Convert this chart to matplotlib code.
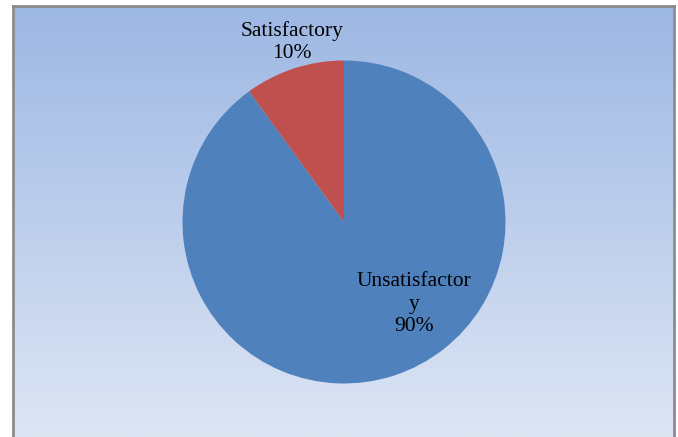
import matplotlib
matplotlib.use("Agg")
import matplotlib.pyplot as plt
import numpy as np
from matplotlib.colors import LinearSegmentedColormap

categories = ["Unsatisfactory", "Satisfactory"]
shares = [90, 10]
label_text = ["Unsatisfactor\ny\n90%", "Satisfactory\n10%"]
colors = ["#4F81BD", "#C0504D"]

W, H = 678, 437
fig = plt.figure(figsize=(W / 100, H / 100), dpi=100)
fig.patch.set_facecolor("white")

# gradient chart area with a grey frame (bottom edge is cut off in the source)
bg = fig.add_axes([13 / W, 0, (674 - 13) / W, (437 - 6) / H])
cmap = LinearSegmentedColormap.from_list("bg", ["#DDE5F4", "#9DB8E4"])
bg.imshow(np.linspace(0, 1, 256).reshape(-1, 1), aspect="auto", cmap=cmap,
          origin="lower", extent=[0, 1, 0, 1])
bg.set_xticks([])
bg.set_yticks([])
for name, s in bg.spines.items():
    s.set_color("#8C8C8C")
    s.set_linewidth(2)
bg.spines["bottom"].set_visible(False)

# pie
cx, cy, r = 344, 222, 161.5
ax = fig.add_axes([(cx - r) / W, (H - cy - r) / H, 2 * r / W, 2 * r / H])
ax.pie(shares, colors=colors, startangle=90, counterclock=False,
       wedgeprops=dict(linewidth=0))
ax.set_xlim(-1, 1)
ax.set_ylim(-1, 1)
ax.set_aspect("equal")
ax.axis("off")

label_pos = [(0.433, -0.51), (-0.32, 1.115)]
for txt, (x, y) in zip(label_text, label_pos):
    ax.text(x, y, txt, ha="center", va="center", fontsize=15.5,
            family="Liberation Serif", color="black", linespacing=1.25,
            clip_on=False)

fig.savefig("out.png", dpi=100)
